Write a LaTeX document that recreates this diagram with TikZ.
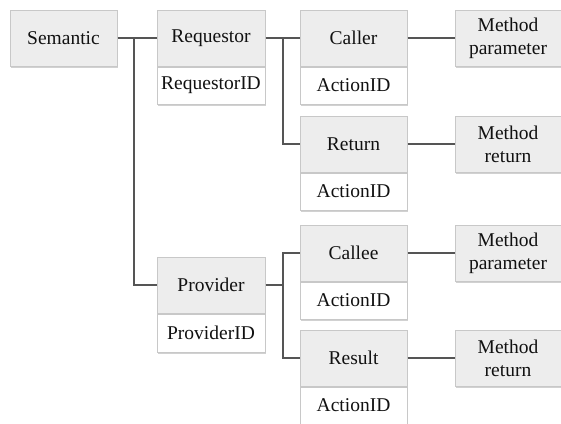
\documentclass[tikz,border=0pt]{standalone}
\usepackage{fontspec}
\setmainfont{Liberation Serif}
\usetikzlibrary{shadows}
\definecolor{boxfill}{HTML}{EDEDED}
\definecolor{boxline}{HTML}{C8C8C8}
\definecolor{wire}{HTML}{555555}
\definecolor{ink}{HTML}{111111}
\tikzset{
  base/.style={rectangle, draw=boxline, line width=1pt, inner sep=0pt,
    text=ink, font=\fontsize{19.5}{23}\selectfont, align=center,
    drop shadow={shadow xshift=1pt, shadow yshift=-1.5pt, opacity=.18, fill=black}},
  headbox/.style={base, fill=boxfill, minimum width=107pt, minimum height=56pt},
  idbox/.style={base, fill=white, minimum width=107pt, minimum height=37pt},
  methodbox/.style={base, fill=boxfill, minimum width=106pt, minimum height=56pt},
  wireline/.style={draw=wire, line width=2pt}
}
\begin{document}
\begin{tikzpicture}[x=1pt, y=-1pt]
\useasboundingbox (0,0) rectangle (561,423);

% root
\node[headbox] (sem) at (63.5,38) {Semantic};

% requestor branch
\node[headbox, minimum width=108pt] (req) at (211,38) {Requestor};
\node[idbox, minimum width=108pt, anchor=north] (reqid) at (req.south) {RequestorID};

\node[headbox] (caller) at (353.5,38) {Caller};
\node[idbox, anchor=north] (callerid) at (caller.south) {ActionID};
\node[headbox] (ret) at (353.5,144) {Return};
\node[idbox, anchor=north] (retid) at (ret.south) {ActionID};

\node[methodbox] (mp1) at (508,38) {Method\\parameter};
\node[methodbox] (mr1) at (508,144) {Method\\return};

% provider branch
\node[headbox, minimum width=108pt] (prov) at (211,285) {Provider};
\node[idbox, minimum width=108pt, minimum height=38pt, anchor=north] (provid) at (prov.south) {ProviderID};

\node[headbox] (callee) at (353.5,253) {Callee};
\node[idbox, anchor=north] (calleeid) at (callee.south) {ActionID};
\node[headbox] (res) at (353.5,358) {Result};
\node[idbox, anchor=north] (resid) at (res.south) {ActionID};

\node[methodbox] (mp2) at (508,253) {Method\\parameter};
\node[methodbox] (mr2) at (508,358) {Method\\return};

% junction points of the tree
\coordinate (j1) at (134,38);
\coordinate (j2) at (283,38);
\coordinate (j3) at (283,285);

% connectors
\draw[wireline] (sem.east) -- (req.west);
\draw[wireline] (j1) |- (prov.west);
\draw[wireline] (req.east) -- (caller.west);
\draw[wireline] (j2) |- (ret.west);
\draw[wireline] (caller.east) -- (mp1.west);
\draw[wireline] (ret.east) -- (mr1.west);
\draw[wireline] (prov.east) -- (j3);
\draw[wireline] (callee.west) -| (j3) |- (res.west);
\draw[wireline] (callee.east) -- (mp2.west);
\draw[wireline] (res.east) -- (mr2.west);
\end{tikzpicture}
\end{document}
